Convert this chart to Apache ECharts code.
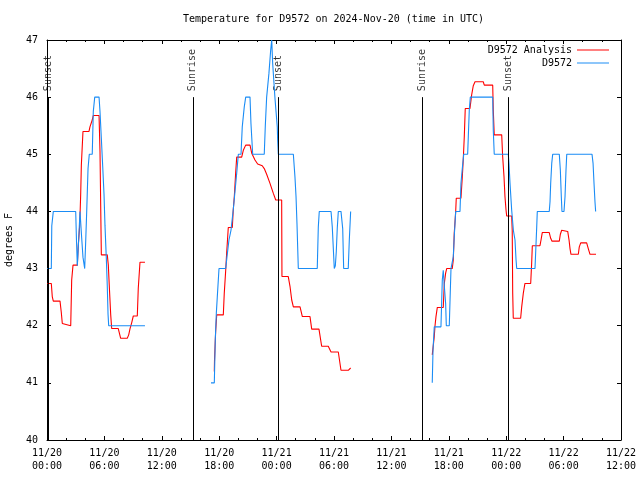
<!DOCTYPE html>
<html>
<head>
<meta charset="utf-8">
<script src="https://cdn.jsdelivr.net/npm/echarts@6/dist/echarts.min.js"></script>
<style>html,body{margin:0;padding:0;background:#fff}#c{width:640px;height:480px}</style>
</head>
<body>
<div id="c"></div>
<script>
// hours since 2024-11-20 00:00 UTC, temperature in degrees F
var titleText = 'Temperature for D9572 on 2024-Nov-20 (time in UTC)';
var yName = 'degrees F';
var xTickLabels = ['11/20\n00:00','11/20\n06:00','11/20\n12:00','11/20\n18:00','11/21\n00:00','11/21\n06:00','11/21\n12:00','11/21\n18:00','11/22\n00:00','11/22\n06:00','11/22\n12:00'];
var yTickLabels = ['40','41','42','43','44','45','46','47'];
var seriesNames = ['D9572 Analysis', 'D9572'];

var sunEvents = [
  [0.12, 'Sunset'], [15.24, 'Sunrise'], [24.15, 'Sunset'], [39.27, 'Sunrise'], [48.2, 'Sunset']
];

var analysisSeg1 = [[0.03,42.74],[0.45,42.74],[0.55,42.51],[0.66,42.43],[1.36,42.43],[1.49,42.24],[1.6,42.04],[2.48,42.0],[2.58,42.8],[2.72,43.06],[3.17,43.06],[3.27,43.41],[3.42,43.76],[3.52,44.29],[3.59,44.81],[3.76,45.4],[4.39,45.4],[4.49,45.48],[4.73,45.6],[4.84,45.68],[5.44,45.68],[5.54,45.05],[5.68,43.24],[6.3,43.24],[6.41,43.06],[6.51,42.7],[6.66,42.19],[6.76,41.95],[7.45,41.95],[7.7,41.78],[8.39,41.78],[8.54,41.84],[8.68,41.95],[8.85,42.05],[9.02,42.17],[9.44,42.17],[9.54,42.65],[9.72,43.11],[10.24,43.11]];
var analysisSeg2 = [[17.49,41.2],[17.51,41.4],[17.63,41.9],[17.74,42.19],[18.43,42.19],[18.53,42.57],[18.68,42.97],[18.78,43.27],[18.95,43.72],[19.37,43.72],[19.47,44.03],[19.58,44.26],[19.72,44.67],[19.83,44.95],[20.35,44.95],[20.52,45.07],[20.77,45.16],[21.22,45.16],[21.4,45.02],[21.74,44.9],[22.02,44.83],[22.5,44.8],[22.71,44.75],[22.96,44.65],[23.31,44.49],[23.65,44.32],[23.91,44.2],[24.53,44.2],[24.56,42.86],[25.22,42.86],[25.4,42.69],[25.58,42.45],[25.75,42.33],[26.45,42.33],[26.69,42.16],[27.49,42.16],[27.67,41.94],[28.43,41.94],[28.71,41.64],[29.4,41.64],[29.69,41.54],[30.45,41.54],[30.73,41.22],[31.49,41.22],[31.74,41.26]];
var analysisSeg3 = [[40.27,41.49],[40.45,41.49],[40.48,41.81],[40.56,42.0],[40.66,42.16],[40.8,42.32],[41.42,42.32],[41.53,42.74],[41.67,42.92],[41.78,43.0],[42.36,43.0],[42.47,43.15],[42.57,43.62],[42.72,44.0],[42.78,44.23],[43.27,44.23],[43.41,44.6],[43.51,44.9],[43.62,45.31],[43.72,45.8],[44.21,45.8],[44.39,46.04],[44.56,46.2],[44.74,46.27],[45.6,46.27],[45.71,46.21],[46.59,46.21],[46.65,45.77],[46.75,45.34],[47.53,45.34],[47.63,44.96],[47.77,44.61],[47.87,44.26],[47.98,44.03],[48.05,43.92],[48.57,43.92],[48.63,43.67],[48.68,42.57],[48.74,42.13],[49.51,42.13],[49.62,42.33],[49.79,42.57],[49.96,42.74],[50.56,42.74],[50.66,43.09],[50.73,43.4],[51.53,43.4],[51.64,43.5],[51.77,43.63],[52.5,43.63],[52.65,43.53],[52.79,43.48],[53.55,43.48],[53.66,43.6],[53.8,43.67],[54.43,43.65],[54.57,43.5],[54.67,43.35],[54.77,43.25],[55.54,43.25],[55.64,43.38],[55.79,43.45],[56.41,43.45],[56.58,43.35],[56.76,43.25],[57.39,43.25]];

var obsSeg1 = [[0.03,43],[0.45,43],[0.5,43.75],[0.66,44],[3.0,44],[3.08,43.5],[3.17,43.05],[3.31,43.5],[3.45,44],[3.52,44],[3.6,43.6],[3.76,43.2],[3.94,43],[4.05,43.5],[4.15,44],[4.29,44.75],[4.42,45],[4.73,45],[4.84,45.75],[4.99,46],[5.44,46],[5.54,45.75],[5.68,45.28],[5.82,44.8],[5.96,44.3],[6.06,43.76],[6.2,43.18],[6.3,42.7],[6.38,42.2],[6.45,42],[10.24,42]];
var obsSeg2 = [[17.14,41],[17.49,41],[17.59,41.75],[17.7,42.22],[17.8,42.5],[17.98,43],[18.68,43],[18.81,43.2],[19.02,43.5],[19.23,43.67],[19.47,44.03],[19.65,44.35],[19.83,44.67],[20.0,45],[20.28,45],[20.41,45.48],[20.62,45.83],[20.77,46],[21.22,46],[21.32,45.54],[21.5,45],[22.71,45],[22.82,45.5],[22.96,46],[23.2,46.42],[23.38,46.82],[23.49,47],[23.59,46.59],[23.83,45.98],[24.07,45.48],[24.11,45.25],[24.18,45],[25.75,45],[25.92,44.6],[26.03,44.26],[26.13,43.79],[26.27,43],[28.25,43],[28.36,43.73],[28.46,44],[29.69,44],[29.82,43.73],[30.03,43],[30.14,43.05],[30.24,43.3],[30.34,43.7],[30.45,44],[30.73,44],[30.91,43.7],[31.01,43],[31.49,43],[31.6,43.5],[31.74,44]];
var obsSeg3 = [[40.27,41],[40.35,41.57],[40.48,41.98],[41.18,41.98],[41.26,42.45],[41.32,42.8],[41.42,42.97],[41.53,42.7],[41.67,42.39],[41.74,42],[42.05,42],[42.13,42.45],[42.23,43],[42.36,43.02],[42.47,43.21],[42.57,43.56],[42.72,44],[43.17,44],[43.27,44.49],[43.41,44.75],[43.56,45],[43.97,45],[44.04,45.31],[44.14,45.77],[44.25,46],[46.59,46],[46.65,45.42],[46.75,45],[48.22,45],[48.29,44.84],[48.4,44.49],[48.57,44.03],[48.75,43.67],[48.92,43.5],[49.03,43.15],[49.1,43],[51.01,43],[51.09,43.32],[51.19,43.73],[51.25,44],[52.5,44],[52.58,44.17],[52.65,44.49],[52.76,44.84],[52.86,45],[53.55,45],[53.66,44.72],[53.76,44.26],[53.83,44],[54.04,44],[54.15,44.26],[54.25,44.72],[54.33,45],[56.97,45],[57.08,44.84],[57.18,44.49],[57.28,44.17],[57.35,44]];

var FONT = 'DejaVu Sans Mono';
var RED = '#ff0000', BLUE = '#1a8cf5';

function lineSeries(name, data, color) {
  return {
    name: name, type: 'line', data: data, showSymbol: false, symbol: 'none',
    animation: false, silent: true,
    lineStyle: { color: color, width: 1.1 }, itemStyle: { color: color }
  };
}

var sunLines = sunEvents.map(function (e) { return [{ coord: [e[0], 40] }, { coord: [e[0], 46] }]; });
var sunLabels = sunEvents.map(function (e) { return [e[0], 46, e[1]]; });

var axisBase = {
  axisLine: { show: true, onZero: false, lineStyle: { color: '#000', width: 1 } },
  splitLine: { show: false }
};

var option = {
  backgroundColor: '#fff',
  animation: false,
  title: {
    text: titleText, left: 178, top: 9,
    textStyle: { fontFamily: FONT, fontSize: 10, fontWeight: 'normal', color: '#000' }
  },
  legend: {
    data: seriesNames, orient: 'vertical', right: 26, top: 39, align: 'right',
    icon: 'rect', itemWidth: 32, itemHeight: 1, itemGap: 1, selectedMode: false,
    textStyle: { fontFamily: FONT, fontSize: 10, color: '#000', lineHeight: 12 }
  },
  grid: { left: 47, right: 19, top: 40, bottom: 40, containLabel: false, outerBoundsMode: 'none' },
  xAxis: [
    Object.assign({}, axisBase, {
      type: 'value', min: 0, max: 60, interval: 6, position: 'bottom',
      axisTick: { show: true, inside: true, length: 4, lineStyle: { color: '#000' } },
      minorTick: { show: true, splitNumber: 3, length: 2, lineStyle: { color: '#000' } },
      minorSplitLine: { show: false },
      axisLabel: {
        margin: 7, fontFamily: FONT, fontSize: 10, color: '#000', lineHeight: 13,
        formatter: function (v) { return xTickLabels[Math.round(v / 6)]; }
      }
    }),
    Object.assign({}, axisBase, {
      type: 'value', min: 0, max: 60, interval: 6, position: 'top',
      axisTick: { show: true, inside: true, length: 4, lineStyle: { color: '#000' } },
      minorTick: { show: true, splitNumber: 3, length: 2, lineStyle: { color: '#000' } },
      minorSplitLine: { show: false },
      axisLabel: { show: false }
    })
  ],
  yAxis: [
    Object.assign({}, axisBase, {
      type: 'value', min: 40, max: 47, interval: 1, position: 'left',
      name: yName, nameLocation: 'middle', nameGap: 33, nameRotate: 90,
      nameTextStyle: { fontFamily: FONT, fontSize: 10, color: '#000' },
      axisTick: { show: true, inside: true, length: 4, lineStyle: { color: '#000' } },
      axisLabel: {
        margin: 9, fontFamily: FONT, fontSize: 10, color: '#000',
        formatter: function (v) { return yTickLabels[Math.round(v - 40)]; }
      }
    }),
    Object.assign({}, axisBase, {
      type: 'value', min: 40, max: 47, interval: 1, position: 'right',
      axisTick: { show: true, inside: true, length: 4, lineStyle: { color: '#000' } },
      axisLabel: { show: false }
    })
  ],
  series: [
    {
      name: 'sun', type: 'line', data: [], silent: true, animation: false,
      markLine: {
        silent: true, symbol: 'none', animation: false,
        lineStyle: { color: '#000', width: 1, type: 'solid' },
        label: { show: false },
        data: sunLines
      }
    },
    {
      name: 'sunlabels', type: 'scatter', data: sunLabels, symbolSize: 0, silent: true, animation: false,
      label: {
        show: true, position: [0, -6], rotate: 90, align: 'left', verticalAlign: 'middle',
        fontFamily: FONT, fontSize: 10, color: '#000',
        formatter: function (p) { return p.data[2]; }
      }
    },
    lineSeries(seriesNames[0], analysisSeg1, RED),
    lineSeries(seriesNames[0], analysisSeg2, RED),
    lineSeries(seriesNames[0], analysisSeg3, RED),
    lineSeries(seriesNames[1], obsSeg1, BLUE),
    lineSeries(seriesNames[1], obsSeg2, BLUE),
    lineSeries(seriesNames[1], obsSeg3, BLUE)
  ]
};

var chart = echarts.init(document.getElementById('c'), null, { renderer: 'canvas' });
chart.setOption(option);
</script>
</body>
</html>
